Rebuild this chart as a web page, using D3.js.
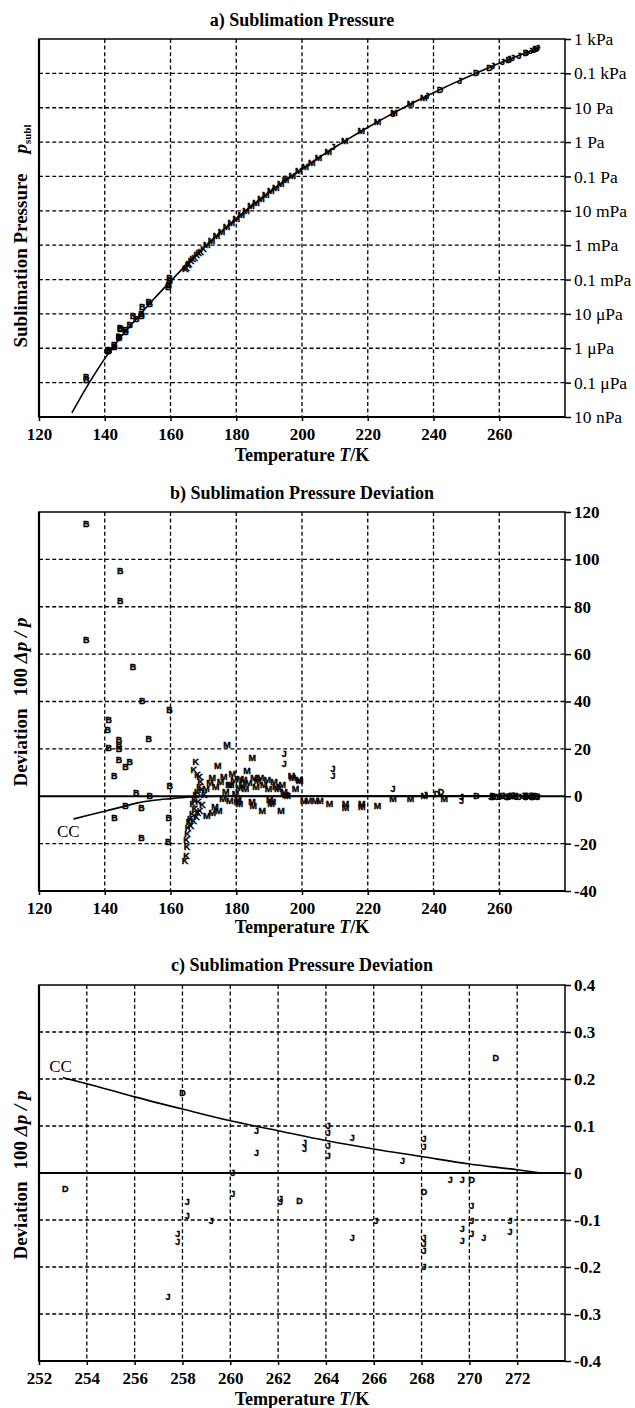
<!DOCTYPE html>
<html>
<head>
<meta charset="utf-8">
<script src="https://cdn.jsdelivr.net/npm/d3@7"></script>
<style>
body { margin: 0; background: #fff; }
svg text { font-family: "Liberation Serif", "Times New Roman", serif; fill: #000; }
.mk { font-family: "Liberation Sans", Arial, sans-serif; font-weight: bold; font-size: 9px; stroke: #000; stroke-width: 0.35px; }
</style>
</head>
<body>
<svg id="chart" width="635" height="1408"></svg>
<script>
// ---- a) fitted sublimation curve (T in K, p in Pa)
var fitT = [130,135,140,145,150,155,160,165,170,175,180,185,190,195,200,205,210,215,220,225,230,235,240,245,250,255,260,265,270,272.5];
var fitP = [1.32e-8,8.9e-8,5.0e-7,2.19e-6,7.9e-6,2.75e-5,8.9e-5,2.82e-4,8.3e-4,2.29e-3,5.9e-3,0.0148,0.0347,0.0776,0.166,0.347,0.708,1.40,2.67,4.98,9.02,15.9,27.4,46.2,76.2,123,196,306,470,580];

// a) measured points, by data set letter
var aB_T = [134.4,134.4,144.7,144.7,148.6,151.4,159.7,141.2,140.9,144.3,144.3,141.2,144.3,153.4,144.3,147.6,146.3,142.9,159.8,149.6,153.7,146.3,151.2,143.0,159.5,151.2,159.3];
var aB_p = [1.51e-7,1.17e-7,3.89e-6,3.63e-6,8.5e-6,1.58e-5,1.15e-4,9.3e-7,8.5e-7,2.19e-6,2.19e-6,8.5e-7,2.14e-6,2.29e-5,2.04e-6,4.9e-6,3.47e-6,1.29e-6,8.9e-5,7.2e-6,2.0e-5,2.95e-6,1.02e-5,1.10e-6,7.2e-5,8.7e-6,6.2e-5];
var aK_T = [164.5,164.9,165.3,165.6,166.2,166.8,167.4,168.0,168.6,169.2,170.0];
var aK_p = [2.0e-4,2.2e-4,2.6e-4,2.9e-4,3.4e-4,3.9e-4,4.4e-4,5.2e-4,5.8e-4,6.6e-4,7.8e-4];
var aM_T = [171,172.5,174,175.5,177,178.5,180,181.5,183,184.5,186,187.5,189,190.5,192,193.5,195,197,199,201,203,205,208,213,218,223,228,233,237];
var aM_p = [1.02e-3,1.38e-3,1.86e-3,2.51e-3,3.31e-3,4.47e-3,5.9e-3,7.8e-3,0.0102,0.0135,0.0174,0.0226,0.0295,0.0376,0.0479,0.061,0.0776,0.105,0.141,0.193,0.257,0.347,0.537,1.06,2.06,3.88,7.1,12.7,19.8];
var aJ_T = [194.7,209.4,227.7,238,248,258,261,263,264,266,268,269.5,270.5,271.6];
var aJ_p = [0.087,0.713,6.86,22.0,62.4,163,214,256,280,333,396,450,490,537];
var aD_T = [242,253,257,262.9,268.1,271.1];
var aD_p = [33.8,102,148,254,400,516];

var aTicks = [1e3,1e2,1e1,1,1e-1,1e-2,1e-3,1e-4,1e-5,1e-6,1e-7,1e-8];
var aLabels = ['1 kPa','0.1 kPa','10 Pa','1 Pa','0.1 Pa','10 mPa','1 mPa','0.1 mPa','10 \u03bcPa','1 \u03bcPa','0.1 \u03bcPa','10 nPa'];

// ---- b) deviations 100 dp/p, 120..280 K
var bB_T = aB_T;
var bB_v = [115,66,95,82.3,54.7,40.1,36.6,32.3,28.0,24.0,21.9,20.4,20.1,24.3,15.4,14.7,12.6,8.6,4.3,1.6,0.1,-4.2,-4.9,-9.2,-9.2,-17.7,-19.2];
var bK_T = [164.4,164.9,165.0,164.9,165.2,165.3,165.6,166.0,166.2,166.6,167.1,167.4,167.9,168.4,169.0,166.8,167.3,167.7,168.1,168.5,168.8,169.2,169.5,168.2,168.9,167.1,167.7,169.7,170.3];
var bK_v = [-27.4,-25.0,-21.5,-18.5,-16.0,-13.5,-11.0,-9.5,-12.4,-7.5,-10.5,-5.5,-8.5,-7.0,-6.0,-3.0,-1.5,0.5,2.0,-2.5,4.0,6.0,2.5,9.0,8.0,11.1,14.7,-3.5,0.5];
var bM_T = [171.0,172.7,174.7,173.5,170.8,172.0,172.7,173.8,174.4,175.2,176.2,176.8,177.2,177.8,178.3,178.8,179.3,179.8,180.3,180.8,181.2,181.8,182.3,182.8,183.3,183.8,184.9,184.8,185.2,185.4,186.0,186.5,187.4,187.9,188.4,189.4,189.8,190.2,190.6,191.0,191.5,192.0,192.6,193.6,194.0,194.5,195.0,195.5,196.8,197.1,198.0,199.1,199.3,200.5,202.0,204.0,205.5,208.4,213.2,213.2,218.2,218.2,223.0,227.7,233.0,237.2,243.3,180.5,181.0,176.0,178.0];
var bM_v = [-8.2,-7.0,-6.0,-4.5,3.0,5.5,7.6,4.0,13.0,6.0,8.3,2.0,21.6,5.0,4.7,9.5,6.8,1.0,-2.4,3.5,7.5,5.0,6.8,3.0,10.9,5.5,16.4,-2.5,-3.9,7.6,4.0,6.5,7.6,-6.0,5.0,6.8,3.0,-1.5,-3.0,-2.4,6.1,4.0,3.0,-6.0,4.7,2.0,0.5,0.0,8.8,7.6,3.0,6.8,6.7,-1.8,-1.8,-1.8,-1.8,-3.1,-3.1,-5.1,-3.1,-4.5,-4.0,-1.1,-1.1,0.3,-1.1,-1.0,-3.0,-1.0,-2.0];
var bJ_T = [194.6,194.6,209.4,209.4,227.7,237.5,248.5,248.5];
var bJ_v = [18.0,13.8,11.6,8.8,3.1,0.8,-0.4,-1.8];
var bD_T = [241.1,242.3];
var bD_v = [1.0,1.8];
var ccB_T = [130.5,135,140,145,150,155,160,165,170,175];
var ccB_v = [-9.6,-8.0,-6.3,-4.6,-2.8,-1.7,-1.0,-0.4,-0.1,0];

// ---- c) deviations near the triple point
var cD_T = [253.1,258.0,271.1,262.9,268.1,270.1];
var cD_v = [-0.033,0.171,0.246,-0.059,-0.040,-0.014];
var cJ_T = [261.1,261.1,263.1,263.1,264.1,264.1,264.1,264.1,265.1,267.2,268.1,268.1,260.1,260.1,262.1,262.1,258.2,258.2,257.8,257.8,259.2,265.1,266.1,268.1,268.1,268.1,268.1,269.2,269.7,270.1,270.1,270.1,269.7,269.7,270.6,271.7,271.7,257.4];
var cJ_v = [0.090,0.042,0.064,0.052,0.100,0.085,0.058,0.037,0.074,0.026,0.072,0.055,0.001,-0.045,-0.054,-0.062,-0.062,-0.092,-0.130,-0.147,-0.101,-0.137,-0.101,-0.137,-0.151,-0.165,-0.200,-0.014,-0.014,-0.069,-0.101,-0.130,-0.119,-0.144,-0.137,-0.101,-0.126,-0.264];
var ccC_T = [253,254,256,258,260,262,264,266,268,270,272,273];
var ccC_v = [0.203,0.190,0.162,0.136,0.111,0.090,0.069,0.051,0.035,0.019,0.007,0.0];

var svg = d3.select('#chart');
var L = 39, R = 565;

function panel(o) {
  var g = svg.append('g');
  var x = o.x, y = o.y;

  // dashed grid
  g.selectAll(null).data(o.xGrid).join('line')
    .attr('x1', function(d) { return x(d); }).attr('x2', function(d) { return x(d); })
    .attr('y1', o.top).attr('y2', o.bottom)
    .attr('stroke', '#000').attr('stroke-width', 1.3).attr('stroke-dasharray', '4,2.6');
  g.selectAll(null).data(o.yGrid).join('line')
    .attr('x1', L).attr('x2', R)
    .attr('y1', function(d) { return y(d); }).attr('y2', function(d) { return y(d); })
    .attr('stroke', '#000').attr('stroke-width', 1.3).attr('stroke-dasharray', '4,2.6');

  // frame
  g.append('rect').attr('x', L).attr('y', o.top).attr('width', R - L).attr('height', o.bottom - o.top)
    .attr('fill', 'none').attr('stroke', '#000').attr('stroke-width', 1.5);
  g.append('line').attr('x1', L).attr('x2', L).attr('y1', o.top).attr('y2', o.bottom)
    .attr('stroke', '#000').attr('stroke-width', 2.2);
  g.append('line').attr('x1', L).attr('x2', R).attr('y1', o.bottom).attr('y2', o.bottom)
    .attr('stroke', '#000').attr('stroke-width', 2.2);

  var xa = g.append('g').attr('transform', 'translate(0,' + o.bottom + ')')
    .call(d3.axisBottom(x).tickValues(o.xTicks).tickFormat(d3.format('d')).tickSize(4).tickPadding(7));
  var ya = g.append('g').attr('transform', 'translate(' + R + ',0)')
    .call(d3.axisRight(y).tickValues(o.yTicks).tickFormat(function(d, i) { return o.yLabels[i]; }).tickSize(6).tickPadding(3));
  [xa, ya].forEach(function(a) {
    a.select('.domain').remove();
    a.selectAll('.tick line').attr('stroke-width', 1.5);
    a.selectAll('.tick text').attr('font-family', '"Liberation Serif", serif').attr('font-size', 17)
      .attr('font-weight', 'bold').attr('fill', '#000');
  });
  if (o.yLight) ya.selectAll('.tick text').attr('font-weight', 'normal').attr('font-size', 17.5);

  // titles
  g.append('text').attr('x', (L + R) / 2).attr('y', o.titleY).attr('text-anchor', 'middle')
    .attr('font-size', 18).attr('font-weight', 'bold').text(o.title);
  var xt = g.append('text').attr('x', (L + R) / 2).attr('y', o.xTitleY).attr('text-anchor', 'middle')
    .attr('font-size', 18).attr('font-weight', 'bold');
  xt.append('tspan').text('Temperature ');
  xt.append('tspan').attr('font-style', 'italic').text('T');
  xt.append('tspan').text('/K');

  var yt = g.append('text').attr('transform', 'translate(27,' + o.yTitleY + ') rotate(-90)')
    .attr('text-anchor', 'middle').attr('font-size', 19).attr('font-weight', 'bold');
  o.yTitle(yt);
  return g;
}

function letters(g, x, y, T, V, ch) {
  g.append('g').selectAll('text').data(d3.zip(T, V)).join('text')
    .attr('class', 'mk')
    .attr('x', function(d) { return x(d[0]); })
    .attr('y', function(d) { return y(d[1]); })
    .attr('dy', '0.35em').attr('text-anchor', 'middle')
    .text(ch);
}

// ---------- a)
var xA = d3.scaleLinear().domain([120, 280]).range([L, R]);
var yA = d3.scaleLog().domain([1e-8, 1e3]).range([417, 39]);
var gA = panel({
  x: xA, y: yA, top: 39, bottom: 417,
  xGrid: [140,160,180,200,220,240,260], yGrid: aTicks.slice(1, -1),
  xTicks: [120,140,160,180,200,220,240,260], yTicks: aTicks, yLabels: aLabels, yLight: true,
  title: 'a) Sublimation Pressure', titleY: 26, xTitleY: 461, yTitleY: 236,
  yTitle: function(t) {
    t.append('tspan').text('Sublimation Pressure');
    t.append('tspan').attr('dx', 20).attr('font-style', 'italic').text('p');
    t.append('tspan').attr('dy', 4).attr('font-size', 11).text('subl');
  }
});
gA.append('path').datum(d3.zip(fitT, fitP))
  .attr('fill', 'none').attr('stroke', '#000').attr('stroke-width', 1.6)
  .attr('d', d3.line().x(function(d) { return xA(d[0]); }).y(function(d) { return yA(d[1]); }).curve(d3.curveMonotoneX));
letters(gA, xA, yA, aB_T, aB_p, 'B');
letters(gA, xA, yA, aK_T, aK_p, 'K');
letters(gA, xA, yA, aM_T, aM_p, 'M');
letters(gA, xA, yA, aJ_T, aJ_p, 'J');
letters(gA, xA, yA, aD_T, aD_p, 'D');

function devTitle(t) {
  t.append('tspan').text('Deviation');
  t.append('tspan').attr('dx', 12).text('100 ');
  t.append('tspan').attr('font-style', 'italic').text('\u0394p / p');
}

// ---------- b)
var xB = d3.scaleLinear().domain([120, 280]).range([L, R]);
var yB = d3.scaleLinear().domain([-40, 120]).range([891, 512]);
var gB = panel({
  x: xB, y: yB, top: 512, bottom: 891,
  xGrid: [140,160,180,200,220,240,260], yGrid: [-20,20,40,60,80,100],
  xTicks: [120,140,160,180,200,220,240,260], yTicks: [120,100,80,60,40,20,0,-20,-40],
  yLabels: ['120','100','80','60','40','20','0','-20','-40'],
  title: 'b) Sublimation Pressure Deviation', titleY: 499, xTitleY: 933, yTitleY: 702,
  yTitle: devTitle
});
gB.append('line').attr('x1', L).attr('x2', R).attr('y1', yB(0)).attr('y2', yB(0))
  .attr('stroke', '#000').attr('stroke-width', 1.8);
gB.append('path').datum(d3.zip(ccB_T.concat(ccC_T), ccB_v.concat(ccC_v)))
  .attr('fill', 'none').attr('stroke', '#000').attr('stroke-width', 1.6)
  .attr('d', d3.line().x(function(d) { return xB(d[0]); }).y(function(d) { return yB(d[1]); }).curve(d3.curveMonotoneX));
gB.append('text').attr('x', xB(128.9)).attr('y', yB(-14.6)).attr('dy', '0.35em').attr('text-anchor', 'middle')
  .attr('font-size', 17).text('CC');
letters(gB, xB, yB, bB_T, bB_v, 'B');
letters(gB, xB, yB, bK_T, bK_v, 'K');
letters(gB, xB, yB, bM_T, bM_v, 'M');
letters(gB, xB, yB, bJ_T, bJ_v, 'J');
letters(gB, xB, yB, bD_T, bD_v, 'D');
// the near-triple-point sets of panel c sit on the zero line at this scale
letters(gB, xB, yB, cJ_T, cJ_v, 'J');
letters(gB, xB, yB, cD_T, cD_v, 'D');

// ---------- c)
var xC = d3.scaleLinear().domain([252, 274]).range([L, R]);
var yC = d3.scaleLinear().domain([-0.4, 0.4]).range([1361, 985]);
var gC = panel({
  x: xC, y: yC, top: 985, bottom: 1361,
  xGrid: [254,256,258,260,262,264,266,268,270,272], yGrid: [-0.3,-0.2,-0.1,0.1,0.2,0.3],
  xTicks: [252,254,256,258,260,262,264,266,268,270,272], yTicks: [0.4,0.3,0.2,0.1,0,-0.1,-0.2,-0.3,-0.4],
  yLabels: ['0.4','0.3','0.2','0.1','0','-0.1','-0.2','-0.3','-0.4'],
  title: 'c) Sublimation Pressure Deviation', titleY: 971, xTitleY: 1405, yTitleY: 1175,
  yTitle: devTitle
});
gC.append('line').attr('x1', L).attr('x2', R).attr('y1', yC(0)).attr('y2', yC(0))
  .attr('stroke', '#000').attr('stroke-width', 1.8);
gC.append('path').datum(d3.zip(ccC_T, ccC_v))
  .attr('fill', 'none').attr('stroke', '#000').attr('stroke-width', 1.6)
  .attr('d', d3.line().x(function(d) { return xC(d[0]); }).y(function(d) { return yC(d[1]); }).curve(d3.curveMonotoneX));
gC.append('text').attr('x', xC(252.9)).attr('y', yC(0.228)).attr('dy', '0.35em').attr('text-anchor', 'middle')
  .attr('font-size', 17).text('CC');
letters(gC, xC, yC, cD_T, cD_v, 'D');
letters(gC, xC, yC, cJ_T, cJ_v, 'J');
</script>
</body>
</html>
